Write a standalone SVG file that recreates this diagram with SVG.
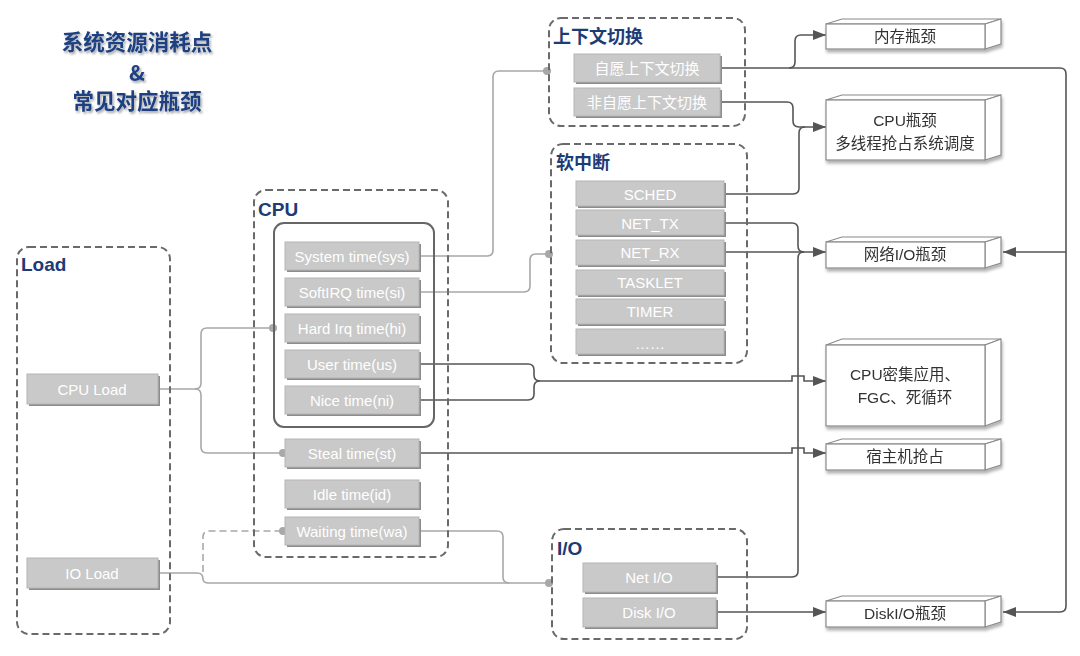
<svg xmlns="http://www.w3.org/2000/svg" width="1080" height="656" viewBox="0 0 1080 656">
<defs>
<style>
.grp{fill:none;stroke:#6a6a6a;stroke-width:2;stroke-dasharray:7,4}
.lbl{font-family:"Liberation Sans","Noto Sans CJK SC",sans-serif;font-weight:bold;fill:#1d3b75}
.item{fill:#c9c9c9;stroke:#b5b5b5;stroke-width:1}
.ish{fill:#8c8c8c}
.it{font-family:"Liberation Sans","Noto Sans CJK SC",sans-serif;font-size:15px;fill:#ffffff;text-anchor:middle;dominant-baseline:central}
.bt{font-family:"Liberation Sans","Noto Sans CJK SC",sans-serif;font-size:15.5px;fill:#333333;text-anchor:middle;dominant-baseline:central}
.face{fill:#ffffff;stroke:#8a8a8a;stroke-width:1.2}
.lg{fill:none;stroke:#a8a8a8;stroke-width:1.6}
.dk{fill:none;stroke:#555555;stroke-width:1.6}
.dot{fill:#a8a8a8}
.title{font-family:"Noto Sans CJK SC",sans-serif;font-weight:bold;font-size:21.5px;fill:#1f3f80;text-anchor:middle}
</style>
<marker id="arr" markerUnits="userSpaceOnUse" markerWidth="13" markerHeight="10" refX="13" refY="5" orient="auto">
<path d="M0,0 L13,5 L0,10 z" fill="#555555"/>
</marker>
<filter id="ts" x="-10%" y="-20%" width="130%" height="160%">
<feDropShadow dx="1.5" dy="2" stdDeviation="1.2" flood-color="#000" flood-opacity="0.35"/>
</filter>
<filter id="bs" x="-5%" y="-10%" width="115%" height="130%">
<feDropShadow dx="1" dy="3" stdDeviation="1.5" flood-color="#000" flood-opacity="0.3"/>
</filter>
</defs>
<rect width="1080" height="656" fill="#ffffff"/>

<g id="title" filter="url(#ts)">
<text class="title" x="137" y="50">系统资源消耗点</text>
<text class="title" x="137" y="81">&amp;</text>
<text class="title" x="137" y="109">常见对应瓶颈</text>
</g>

<g id="connectors">
<path class="lg" d="M158,389 H195 Q201,389 201,383 V334 Q201,328 207,328 H273"/>
<path class="lg" d="M195,389 Q201,389 201,395 V447 Q201,453 207,453 H283"/>
<circle class="dot" cx="273" cy="328" r="4"/>
<circle class="dot" cx="283" cy="453" r="4"/>
<path class="lg" d="M158,573 H197 Q203,573 203,579 Q203,583 209,583 H549"/>
<path class="lg" stroke-dasharray="7,4" d="M203,572 V537 Q203,531 209,531 H283"/>
<circle class="dot" cx="283" cy="531" r="4"/>
<path class="lg" d="M419,531 H497 Q503,531 503,537 V577 Q503,583 509,583"/>
<circle class="dot" cx="549" cy="583" r="4"/>
<path class="lg" d="M419,256 H487 Q493,256 493,250 V77 Q493,71 499,71 H547"/>
<circle class="dot" cx="547" cy="71" r="4"/>
<path class="lg" d="M419,292 H524 Q530,292 530,286 V260 Q530,254 536,254 H549"/>
<circle class="dot" cx="549" cy="254" r="4"/>
<path class="dk" d="M419,364 H528 Q534,364 534,370 V375 Q534,381 540,381 H792 V376 H804 V381 H826" marker-end="url(#arr)"/>
<path class="dk" d="M419,400 H528 Q534,400 534,394 V387 Q534,381 540,381"/>
<path class="dk" d="M419,453 H792 V448 H804 V453 H826" marker-end="url(#arr)"/>
<path class="dk" d="M720,68 H1060 Q1066,68 1066,74 V606 Q1066,612 1060,612 H1003" marker-end="url(#arr)"/>
<path class="dk" d="M789,68 Q795,68 795,62 V41 Q795,35 801,35 H826" marker-end="url(#arr)"/>
<path class="dk" d="M1066,252 H1003" marker-end="url(#arr)"/>
<path class="dk" d="M720,102 H787 Q793,102 793,108 V121 Q793,127 799,127 H826" marker-end="url(#arr)"/>
<path class="dk" d="M724,194 H793 Q799,194 799,188 V133 Q799,127 805,127"/>
<path class="dk" d="M724,223 H792 Q798,223 798,229 V246 Q798,252 804,252"/>
<path class="dk" d="M724,252 H826" marker-end="url(#arr)"/>
<path class="dk" d="M716,577 H792 Q798,577 798,571 V258 Q798,252 804,252"/>
<path class="dk" d="M716,612 H826" marker-end="url(#arr)"/>
</g>

<g id="load-group">
<rect class="grp" x="17" y="247" width="153" height="387" rx="12"/>
<text class="lbl" x="21" y="271" font-size="19">Load</text>
</g>
<g id="cpu-load">
<rect class="ish" x="29" y="376" width="131" height="30"/>
<rect class="item" x="27" y="374" width="131" height="30"/>
<text class="it" x="92" y="389">CPU Load</text>
</g>
<g id="io-load">
<rect class="ish" x="29" y="560" width="131" height="30"/>
<rect class="item" x="27" y="558" width="131" height="30"/>
<text class="it" x="92" y="573">IO Load</text>
</g>

<g id="cpu-group">
<rect class="grp" x="254" y="190" width="194" height="367" rx="12"/>
<text class="lbl" x="258" y="216" font-size="19">CPU</text>
<rect x="274" y="223" width="160" height="204" rx="10" fill="none" stroke="#666666" stroke-width="2"/>
</g>
<g id="sys"><rect class="ish" x="287" y="244" width="134" height="28"/><rect class="item" x="285" y="242" width="134" height="28"/><text class="it" x="352" y="256">System time(sys)</text></g>
<g id="si"><rect class="ish" x="287" y="280" width="134" height="28"/><rect class="item" x="285" y="278" width="134" height="28"/><text class="it" x="352" y="292">SoftIRQ time(si)</text></g>
<g id="hi"><rect class="ish" x="287" y="316" width="134" height="28"/><rect class="item" x="285" y="314" width="134" height="28"/><text class="it" x="352" y="328">Hard Irq time(hi)</text></g>
<g id="us"><rect class="ish" x="287" y="352" width="134" height="28"/><rect class="item" x="285" y="350" width="134" height="28"/><text class="it" x="352" y="364">User time(us)</text></g>
<g id="ni"><rect class="ish" x="287" y="388" width="134" height="28"/><rect class="item" x="285" y="386" width="134" height="28"/><text class="it" x="352" y="400">Nice time(ni)</text></g>
<g id="st"><rect class="ish" x="287" y="441" width="134" height="28"/><rect class="item" x="285" y="439" width="134" height="28"/><text class="it" x="352" y="453">Steal time(st)</text></g>
<g id="id"><rect class="ish" x="287" y="482" width="134" height="28"/><rect class="item" x="285" y="480" width="134" height="28"/><text class="it" x="352" y="494">Idle time(id)</text></g>
<g id="wa"><rect class="ish" x="287" y="519" width="134" height="28"/><rect class="item" x="285" y="517" width="134" height="28"/><text class="it" x="352" y="531">Waiting time(wa)</text></g>

<g id="ctx-group">
<rect class="grp" x="549" y="18" width="196" height="108" rx="12"/>
<text class="lbl" x="553" y="43" font-size="18">上下文切换</text>
</g>
<g id="vol"><rect class="ish" x="576" y="56" width="146" height="28"/><rect class="item" x="574" y="54" width="146" height="28"/><text class="it" x="647" y="68">自愿上下文切换</text></g>
<g id="invol"><rect class="ish" x="576" y="90" width="146" height="28"/><rect class="item" x="574" y="88" width="146" height="28"/><text class="it" x="647" y="102">非自愿上下文切换</text></g>

<g id="softirq-group">
<rect class="grp" x="551" y="144" width="196" height="219" rx="12"/>
<text class="lbl" x="556" y="169" font-size="18">软中断</text>
</g>
<g id="sched"><rect class="ish" x="578" y="183" width="148" height="25"/><rect class="item" x="576" y="181" width="148" height="25"/><text class="it" x="650" y="194">SCHED</text></g>
<g id="nettx"><rect class="ish" x="578" y="212" width="148" height="25"/><rect class="item" x="576" y="210" width="148" height="25"/><text class="it" x="650" y="223">NET_TX</text></g>
<g id="netrx"><rect class="ish" x="578" y="242" width="148" height="25"/><rect class="item" x="576" y="240" width="148" height="25"/><text class="it" x="650" y="252">NET_RX</text></g>
<g id="tasklet"><rect class="ish" x="578" y="272" width="148" height="25"/><rect class="item" x="576" y="270" width="148" height="25"/><text class="it" x="650" y="282">TASKLET</text></g>
<g id="timer"><rect class="ish" x="578" y="301" width="148" height="25"/><rect class="item" x="576" y="299" width="148" height="25"/><text class="it" x="650" y="311">TIMER</text></g>
<g id="more"><rect class="ish" x="578" y="331" width="148" height="25"/><rect class="item" x="576" y="329" width="148" height="25"/><text class="it" x="650" y="343" font-size="11">……</text></g>

<g id="io-group">
<rect class="grp" x="552" y="529" width="195" height="110" rx="12"/>
<text class="lbl" x="557" y="555" font-size="19">I/O</text>
</g>
<g id="netio"><rect class="ish" x="585" y="565" width="133" height="29"/><rect class="item" x="583" y="563" width="133" height="29"/><text class="it" x="649" y="577">Net I/O</text></g>
<g id="diskio"><rect class="ish" x="585" y="600" width="133" height="29"/><rect class="item" x="583" y="598" width="133" height="29"/><text class="it" x="649" y="612">Disk I/O</text></g>

<g id="mem-bottleneck" filter="url(#bs)">
<path class="face" d="M826,24 L842,19 H1001 L985,24 Z"/>
<path class="face" d="M985,24 L1001,19 V44 L985,49 Z"/>
<rect class="face" x="826" y="24" width="159" height="25"/>
<text class="bt" x="905" y="36">内存瓶颈</text>
</g>
<g id="cpu-bottleneck" filter="url(#bs)">
<path class="face" d="M826,100 L842,95 H1001 L985,100 Z"/>
<path class="face" d="M985,100 L1001,95 V155 L985,160 Z"/>
<rect class="face" x="826" y="100" width="159" height="60"/>
<text class="bt" x="905" y="120">CPU瓶颈</text>
<text class="bt" x="905" y="143">多线程抢占系统调度</text>
</g>
<g id="net-bottleneck" filter="url(#bs)">
<path class="face" d="M826,242 L842,237 H1001 L985,242 Z"/>
<path class="face" d="M985,242 L1001,237 V263 L985,268 Z"/>
<rect class="face" x="826" y="242" width="159" height="26"/>
<text class="bt" x="905" y="254">网络I/O瓶颈</text>
</g>
<g id="cpu-intensive" filter="url(#bs)">
<path class="face" d="M826,345 L842,339 H1001 L985,345 Z"/>
<path class="face" d="M985,345 L1001,339 V420 L985,426 Z"/>
<rect class="face" x="826" y="345" width="159" height="81"/>
<text class="bt" x="905" y="374">CPU密集应用、</text>
<text class="bt" x="905" y="397">FGC、死循环</text>
</g>
<g id="host-steal" filter="url(#bs)">
<path class="face" d="M826,444 L842,439 H1001 L985,444 Z"/>
<path class="face" d="M985,444 L1001,439 V465 L985,470 Z"/>
<rect class="face" x="826" y="444" width="159" height="26"/>
<text class="bt" x="905" y="456">宿主机抢占</text>
</g>
<g id="disk-bottleneck" filter="url(#bs)">
<path class="face" d="M826,601 L842,596 H1001 L985,601 Z"/>
<path class="face" d="M985,601 L1001,596 V622 L985,627 Z"/>
<rect class="face" x="826" y="601" width="159" height="26"/>
<text class="bt" x="905" y="613">DiskI/O瓶颈</text>
</g>
</svg>
